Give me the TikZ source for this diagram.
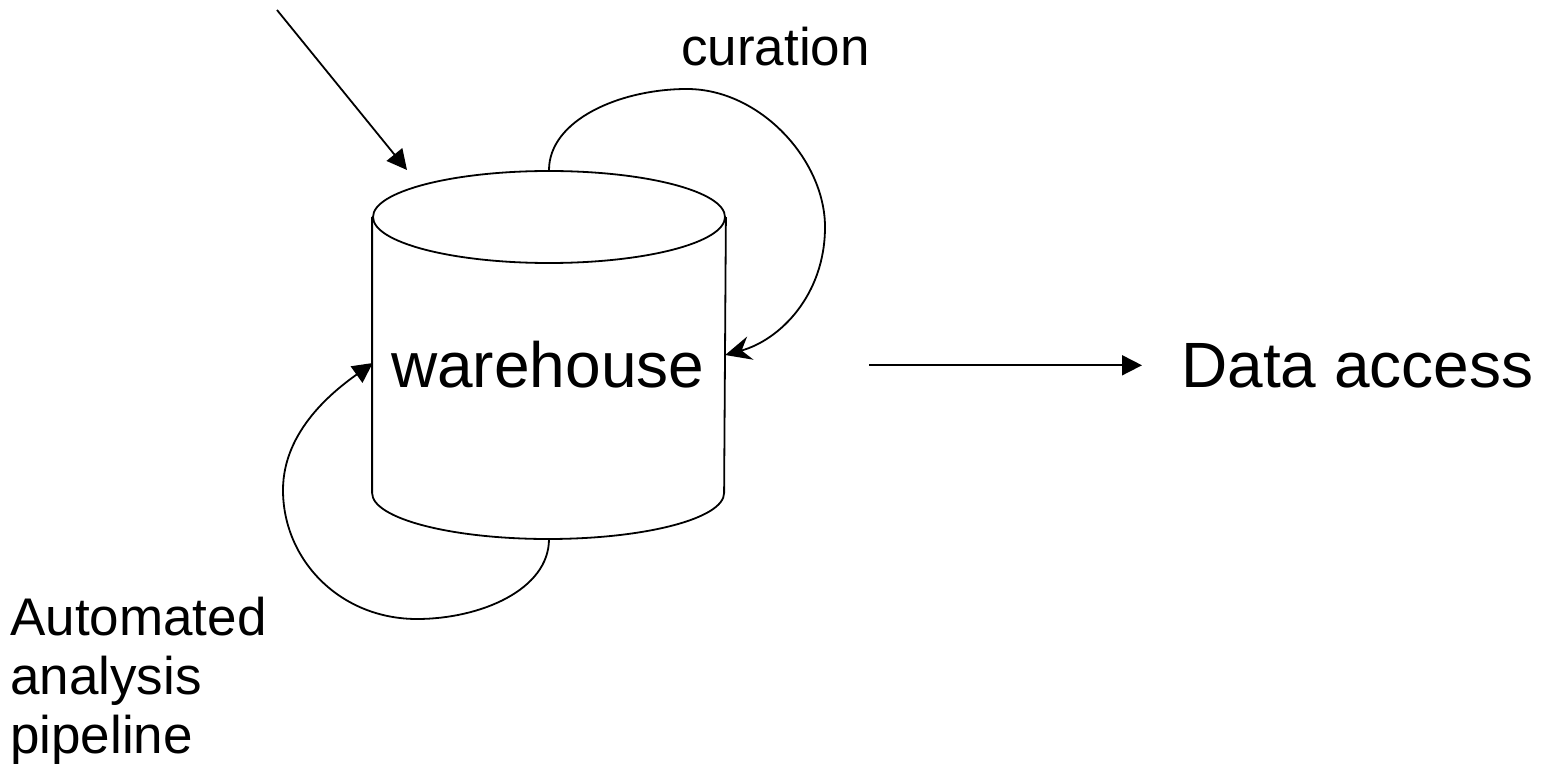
\documentclass[tikz,border=0pt]{standalone}
\usepackage{fontspec}
\setmainfont{Liberation Sans}
\usetikzlibrary{arrows.meta,shapes.geometric,calc}

\begin{document}
\begin{tikzpicture}[x=1pt,y=-1pt,
    wire/.style={line width=1.8pt,black},
    tri/.style={wire,-{Triangle[length=20pt,width=20pt]}},
    stealthy/.style={wire,-{Stealth[length=26pt,width=24pt,inset=9pt]}},
    bigtext/.style={inner sep=0pt,font=\fontsize{64}{77}\selectfont},
    smalltext/.style={inner sep=0pt,font=\fontsize{53}{59}\selectfont},
  ]
  \useasboundingbox (0,0) rectangle (1545,770);

  % the warehouse cylinder: top cap, invisible body box, sides and bottom
  \node[ellipse,draw,wire,minimum width=352pt,minimum height=92pt,inner sep=0pt] (cap) at (549,217) {};
  \node[minimum width=352pt,minimum height=276pt,inner sep=0pt] (body) at (549,355) {};
  \draw[wire] (cap.west) -- ++(0,276)
    arc[start angle=180,end angle=0,x radius=176,y radius=46] -- (cap.east);
  \coordinate (base) at (549,539);

  % labels
  \node[bigtext,anchor=base west] (wh) at (391,387) {warehouse};
  \node[bigtext,anchor=base west] (da) at (1181,387) {Data access};
  \node[smalltext,anchor=base west] (cur) at (681,66) {curation};
  % base of a multi-line node is the baseline of its last line
  \node[smalltext,anchor=base west,align=left] (auto) at (10,753) {Automated\\analysis\\pipeline};

  % incoming data
  \coordinate (src) at (277,10);
  \coordinate (intake) at (407,170);
  \draw[tri] (src) -- (intake);

  % curation loop from the top of the warehouse back into it
  \draw[stealthy] (cap.north) .. controls (549,120) and (620,89) .. (687,89)
    .. controls (760,89) and (825,160) .. (825,227)
    .. controls (825,295) and (780,340) .. (body.east);

  % automated analysis loop from the bottom of the warehouse back into it
  \draw[tri] (base) .. controls (549,590) and (480,619) .. (417,619)
    .. controls (340,619) and (283,560) .. (283,490)
    .. controls (283,430) and (335,390) .. ($(body.west)+(0,8)$);

  % output towards data access
  \coordinate (out) at ($(da.west)+(-312,0)$);
  \draw[tri] (out) -- ($(da.west)+(-39,0)$);
\end{tikzpicture}
\end{document}
